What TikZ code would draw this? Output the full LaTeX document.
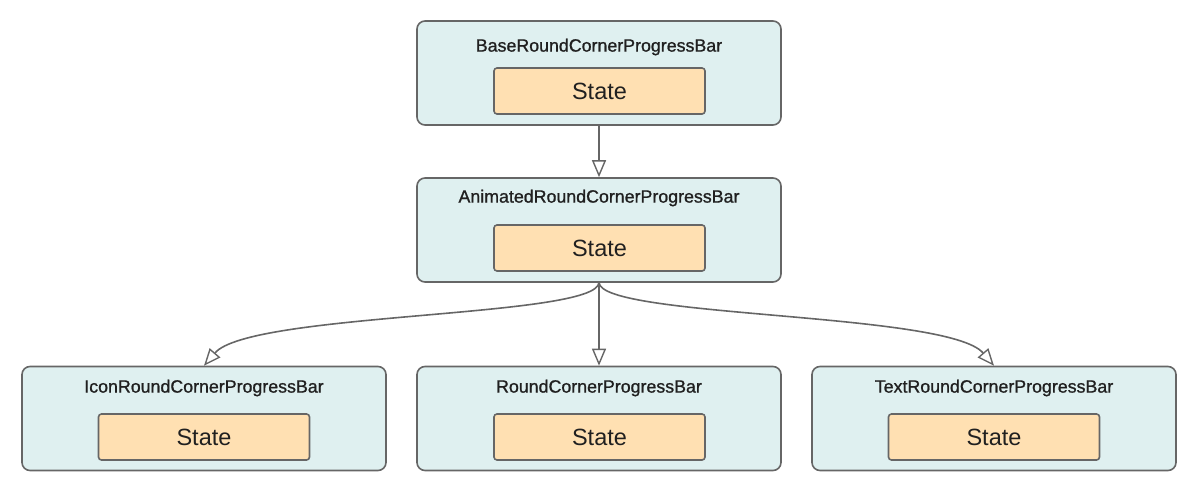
\documentclass[tikz,border=0pt]{standalone}
\usepackage{fontspec}
\setmainfont{Liberation Sans}
\newfontfamily\titlefont[FakeBold=1]{Liberation Sans}
\usetikzlibrary{arrows.meta}
\definecolor{boxfill}{HTML}{DFF0F0}
\definecolor{statefill}{HTML}{FFE0B2}
\definecolor{edge}{HTML}{666666}
\definecolor{txt}{HTML}{202020}
\begin{document}
\begin{tikzpicture}[x=1pt,y=-1pt,
  classbox/.style={draw=edge,line width=1.6pt,fill=boxfill,rounded corners=8pt,minimum width=364pt,minimum height=104pt,inner sep=0pt},
  statebox/.style={draw=edge,line width=1.6pt,fill=statefill,rounded corners=3pt,minimum width=211pt,minimum height=46pt,inner sep=0pt,text=txt,font=\fontsize{23.5}{28}\selectfont},
  title/.style={font=\titlefont\fontsize{17.8}{21}\selectfont,text=txt,inner sep=0pt},
  inh/.style={draw=edge,line width=1.6pt,-{Triangle[open,length=17pt,width=14pt,line width=1.4pt]}}
]
\useasboundingbox (0,0) rectangle (1200,501);
% top
\node[classbox] (base) at (599,73) {};
\node[title] (baset) at (599,47) {BaseRoundCornerProgressBar};
\node[statebox] (bases) at (599.5,91) {State};
% middle
\node[classbox] (anim) at (599,230) {};
\node[title] (animt) at (599,198) {AnimatedRoundCornerProgressBar};
\node[statebox] (anims) at (599.5,248) {State};
% bottom
\node[classbox] (icon) at (204,418.5) {};
\node[title] (icont) at (204,388) {IconRoundCornerProgressBar};
\node[statebox] (icons) at (204,437) {State};
\node[classbox] (round) at (599,418.5) {};
\node[title] (roundt) at (599,388) {RoundCornerProgressBar};
\node[statebox] (rounds) at (599.5,437) {State};
\node[classbox] (text) at (994,418.5) {};
\node[title] (textt) at (994,388) {TextRoundCornerProgressBar};
\node[statebox] (texts) at (994,437) {State};
% arrows
\draw[inh] (base.south) -- (anim.north);
\draw[inh] (anim.south) -- (round.north);
\draw[inh] (anim.south) .. controls (595,318) and (250,312) .. (icon.north);
\draw[inh] (anim.south) .. controls (603,318) and (948,312) .. (text.north);
\end{tikzpicture}
\end{document}
